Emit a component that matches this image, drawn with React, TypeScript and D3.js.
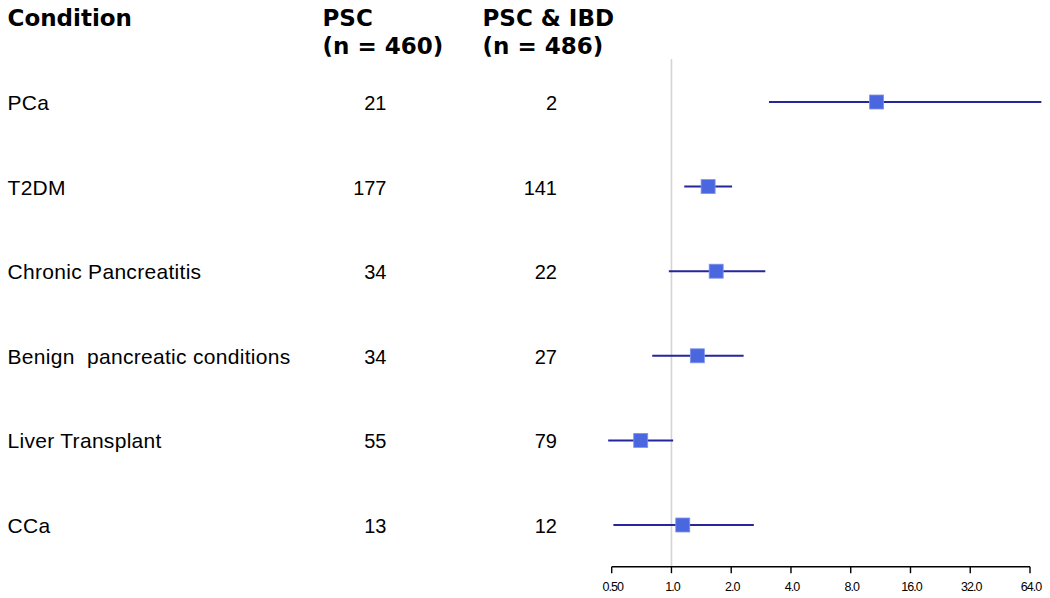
import React from "react";
import * as d3 from "d3";

const conditions = ["PCa", "T2DM", "Chronic Pancreatitis", "Benign  pancreatic conditions", "Liver Transplant", "CCa"];
const pscCounts = [21, 177, 34, 34, 55, 13];
const ibdCounts = [2, 141, 22, 27, 79, 12];
const estimate = [10.8, 1.53, 1.68, 1.35, 0.70, 1.14];
const lower = [3.1, 1.16, 0.97, 0.80, 0.48, 0.51];
const upper = [73, 2.02, 2.97, 2.31, 1.02, 2.6];
const ticks = [0.5, 1, 2, 4, 8, 16, 32, 64];
const tickLabels = ["0.50", "1.0", "2.0", "4.0", "8.0", "16.0", "32.0", "64.0"];

const W = 1050;
const H = 598;

export default function App() {
  const x = d3.scaleLog().base(2).domain([0.5, 64]).range([611.7, 1030]);
  const y = d3.scaleLinear().domain([0, 5]).range([102, 525]);
  const axisY = 566.7;
  const headFont = "'DejaVu Sans', Verdana, sans-serif";
  const bodyFont = "'Liberation Sans', Arial, Helvetica, sans-serif";
  const sq = 14;
  return (
    <svg width={W} height={H} style={{ position: "absolute", left: 0, top: 0, background: "#fff" }}>
      <g fontFamily={headFont} fontWeight="bold" fontSize={23} fill="#000">
        <text x={7.5} y={26}>Condition</text>
        <text x={322.5} y={26}>PSC</text>
        <text x={322.5} y={54}>(n = 460)</text>
        <text x={482.5} y={26}>PSC &amp; IBD</text>
        <text x={482.5} y={54}>(n = 486)</text>
      </g>
      <line x1={x(1)} x2={x(1)} y1={59} y2={axisY} stroke="#d4d4d4" strokeWidth={1.6} />
      <g fontFamily={bodyFont} fill="#000">
        {conditions.map((c, i) => (
          <g key={c}>
            <text x={7.5} y={y(i) + 8} fontSize={21} letterSpacing={0.3} style={{ whiteSpace: "pre" }}>{c}</text>
            <text x={386.5} y={y(i) + 8} fontSize={20} textAnchor="end">{pscCounts[i]}</text>
            <text x={557} y={y(i) + 8} fontSize={20} textAnchor="end">{ibdCounts[i]}</text>
          </g>
        ))}
      </g>
      {conditions.map((c, i) => (
        <g key={"m" + c}>
          <line x1={x(lower[i])} x2={x(upper[i])} y1={y(i)} y2={y(i)} stroke="#25259c" strokeWidth={2} />
          <rect x={x(estimate[i]) - sq / 2} y={y(i) - sq / 2} width={sq} height={sq} fill="#4a67e0" stroke="#7f93ec" strokeWidth={0.8} />
        </g>
      ))}
      <g>
        <line x1={x(0.5)} x2={x(64)} y1={axisY} y2={axisY} stroke="#000" strokeWidth={1.4} />
        {ticks.map((t, i) => (
          <g key={t}>
            <line x1={x(t)} x2={x(t)} y1={axisY} y2={axisY + 6.5} stroke="#000" strokeWidth={1.4} />
            <text x={x(t) + 1} y={590.5} textAnchor="middle" fontFamily={bodyFont} fontSize={12.5} letterSpacing={-1} fill="#000">
              {tickLabels[i]}
            </text>
          </g>
        ))}
      </g>
    </svg>
  );
}
